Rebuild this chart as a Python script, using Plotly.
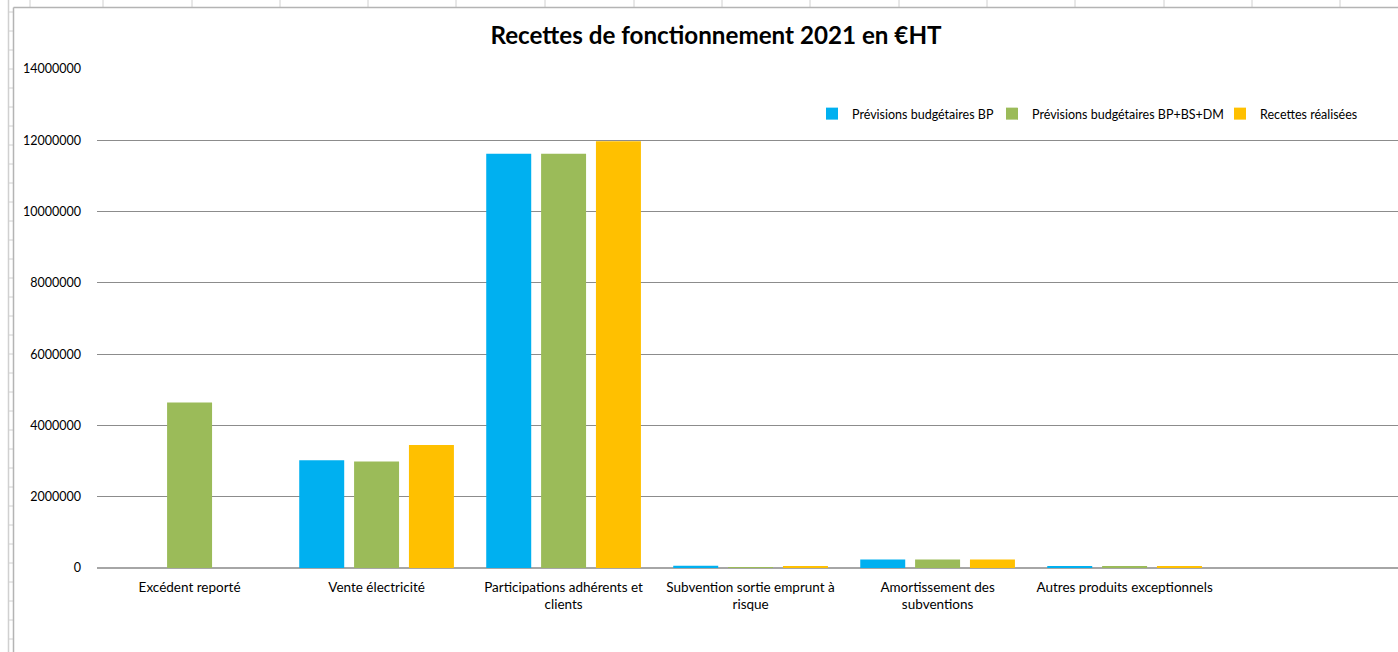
import plotly.graph_objects as go

categories = [
    "Excédent reporté",
    "Vente électricité",
    "Participations adhérents et<br>clients",
    "Subvention sortie emprunt à<br>risque",
    "Amortissement des<br>subventions",
    "Autres produits exceptionnels",
]
prev_bp = [0, 3020000, 11620000, 60000, 240000, 55000]
prev_bp_bs_dm = [4640000, 2990000, 11620000, 15000, 240000, 45000]
recettes_realisees = [0, 3450000, 11970000, 50000, 240000, 50000]

series_names = ["Prévisions budgétaires BP", "Prévisions budgétaires BP+BS+DM", "Recettes réalisées"]
series_colors = ["#00B0F0", "#9BBB59", "#FFC000"]
y_ticks = [0, 2000000, 4000000, 6000000, 8000000, 10000000, 12000000, 14000000]
title = "Recettes de fonctionnement 2021 en €HT"

W, H = 1398, 652
L, R, T, B = 97, 0, 69, 84
PW, PH = W - L - R, H - T - B


def px2x(px):
    return (px - L) / PW


def py2y(py):
    return (H - B - py) / PH


FONT = "Lato, 'Open Sans', sans-serif"

# legend text start positions (px) for each series
legend_text_px = [852, 1032, 1260]
legend_ids = ["legend", "legend2", "legend3"]

fig = go.Figure()
for name, vals, col, lid in zip(series_names, [prev_bp, prev_bp_bs_dm, recettes_realisees], series_colors, legend_ids):
    fig.add_trace(go.Bar(x=categories, y=vals, name=name, legend=lid,
                         marker=dict(color=col, line=dict(width=0))))

# spreadsheet chrome around the chart object
shapes = []
chrome = "#d0d0d0"
border = "#b4b4b4"
for cx in [30, 103, 192, 280, 368, 456, 545, 634, 722, 810, 899, 987, 1075, 1164, 1252, 1340]:
    shapes.append(dict(type="line", xref="paper", yref="paper", x0=px2x(cx), x1=px2x(cx),
                       y0=py2y(0), y1=py2y(7), line=dict(color=chrome, width=1), layer="below"))
shapes.append(dict(type="line", xref="paper", yref="paper", x0=px2x(8.5), x1=px2x(8.5),
                   y0=py2y(0), y1=py2y(652), line=dict(color=chrome, width=1.5), layer="below"))
for ry in range(12, 652, 19):
    shapes.append(dict(type="line", xref="paper", yref="paper", x0=px2x(9), x1=px2x(13),
                       y0=py2y(ry), y1=py2y(ry), line=dict(color=chrome, width=1), layer="below"))
shapes.append(dict(type="line", xref="paper", yref="paper", x0=px2x(13.5), x1=px2x(13.5),
                   y0=py2y(7.5), y1=py2y(652), line=dict(color=border, width=1.5), layer="below"))
shapes.append(dict(type="line", xref="paper", yref="paper", x0=px2x(13.5), x1=px2x(1398),
                   y0=py2y(7.5), y1=py2y(7.5), line=dict(color=border, width=1.5), layer="below"))

legend_common = dict(orientation="h", xanchor="left", y=py2y(114), yanchor="middle",
                     font=dict(family=FONT, size=12.5), bgcolor="rgba(0,0,0,0)")
legends = {lid: dict(x=px2x(tx - 40), **legend_common) for lid, tx in zip(legend_ids, legend_text_px)}

fig.update_layout(
    width=W, height=H,
    margin=dict(l=L, r=R, t=T, b=B, autoexpand=False),
    paper_bgcolor="white", plot_bgcolor="white",
    font=dict(family=FONT, color="#000000", size=12.5),
    title=dict(text="<b>" + title + "</b>", x=716 / W, xanchor="center", y=1 - 36 / H, yanchor="middle",
               font=dict(family=FONT, size=24.2, color="#000000")),
    barmode="group", bargap=0.12, bargroupgap=0.18,
    showlegend=True,
    xaxis=dict(range=[-0.495, 6.462], showgrid=False, showline=False, ticks="", zeroline=False,
               tickfont=dict(family=FONT, size=13.5), ticklabelstandoff=9),
    yaxis=dict(range=[0, 14000000], tickvals=y_ticks, ticktext=[str(v) for v in y_ticks],
               showgrid=True, gridcolor="#8c8c8c", gridwidth=1,
               zeroline=True, zerolinecolor="#a6a6a6", zerolinewidth=2,
               showline=False, ticks="", tickfont=dict(family=FONT, size=12.5), ticklabelstandoff=15),
    shapes=shapes,
    **legends,
)

fig.write_html("out.html", config={"displayModeBar": False},
               post_script="document.body.style.margin='0px';")
